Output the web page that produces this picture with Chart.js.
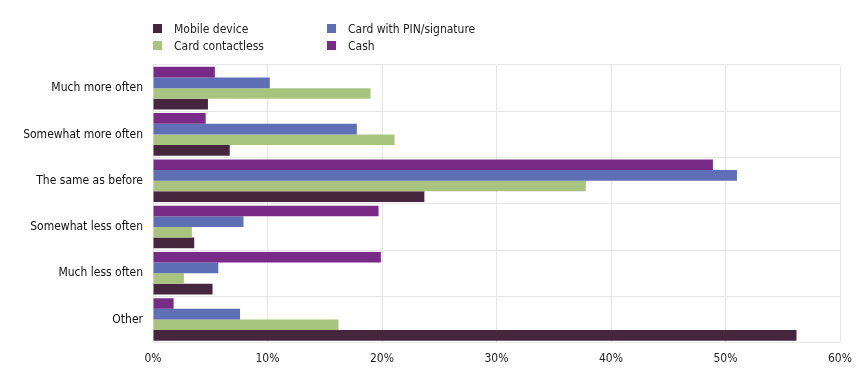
<!DOCTYPE html>
<html>
<head>
<meta charset="utf-8">
<script src="https://cdn.jsdelivr.net/npm/chart.js@4/dist/chart.umd.min.js"></script>
<style>
  html, body { margin: 0; padding: 0; background: #fff; }
  #wrap { position: relative; width: 868px; height: 382px; }
  #legend { position: absolute; left: 153px; top: 21px; font: 12px "DejaVu Sans Condensed", sans-serif; color: #222;
            display: grid; grid-template-columns: 174px 200px; row-gap: 2px; }
  #legend div { display: flex; align-items: center; height: 15px; }
  #legend span.box { width: 9px; height: 9px; margin-right: 12px; display: inline-block; }
</style>
</head>
<body>
<div id="wrap">
  <div id="legend"></div>
  <canvas id="chart" width="868" height="382"></canvas>
</div>
<script>
var categories = ["Much more often", "Somewhat more often", "The same as before", "Somewhat less often", "Much less often", "Other"];
var cash        = [5.4, 4.6, 48.9, 19.7, 19.9, 1.8];
var cardPin     = [10.2, 17.8, 51.0, 7.9, 5.7, 7.6];
var contactless = [19.0, 21.1, 37.8, 3.4, 2.7, 16.2];
var mobile      = [4.8, 6.7, 23.7, 3.6, 5.2, 56.2];
var xTicks = [0, 10, 20, 30, 40, 50, 60];

var colors = {cash: "#772b87", pin: "#5e6fb5", contactless: "#a9c47f", mobile: "#45263c"};

// bars are drawn top to bottom in dataset order
var datasets = [
    {label: "Cash", data: cash, backgroundColor: colors.cash},
    {label: "Card with PIN/signature", data: cardPin, backgroundColor: colors.pin},
    {label: "Card contactless", data: contactless, backgroundColor: colors.contactless},
    {label: "Mobile device", data: mobile, backgroundColor: colors.mobile}
];

// legend order (row by row)
var legendOrder = ["Mobile device", "Card with PIN/signature", "Card contactless", "Cash"];
var legendDiv = document.getElementById("legend");
legendOrder.forEach((name) => {
    var ds = datasets.find((d) => d.label == name);
    var item = document.createElement("div");
    item.innerHTML = '<span class="box" style="background:' + ds.backgroundColor + '"></span>' + name;
    legendDiv.appendChild(item);
});

Chart.defaults.font.family = '"DejaVu Sans Condensed", sans-serif';
Chart.defaults.font.size = 12;
Chart.defaults.color = "#222";

new Chart(document.getElementById("chart"), {
    type: 'bar',
    data: {labels: categories, datasets: datasets},
    options: {
        indexAxis: 'y',
        responsive: false,
        animation: false,
        layout: {padding: {top: 65, right: 28, left: 0, bottom: 7}},
        datasets: {bar: {categoryPercentage: 0.92, barPercentage: 1.0, borderWidth: 0}},
        plugins: {legend: {display: false}, tooltip: {enabled: false}},
        scales: {
            x: {
                min: 0, max: 60,
                afterBuildTicks: (axis) => { axis.ticks = xTicks.map((v) => ({value: v})); },
                ticks: {callback: (v) => v + "%", padding: 9},
                grid: {color: "#e6e6e6", drawTicks: false},
                border: {display: false}
            },
            y: {
                afterFit: (axis) => { axis.width = 153; },
                ticks: {padding: 10, color: "#111"},
                grid: {color: "#e6e6e6", offset: true, drawTicks: false},
                border: {display: false}
            }
        }
    }
});
</script>
</body>
</html>
